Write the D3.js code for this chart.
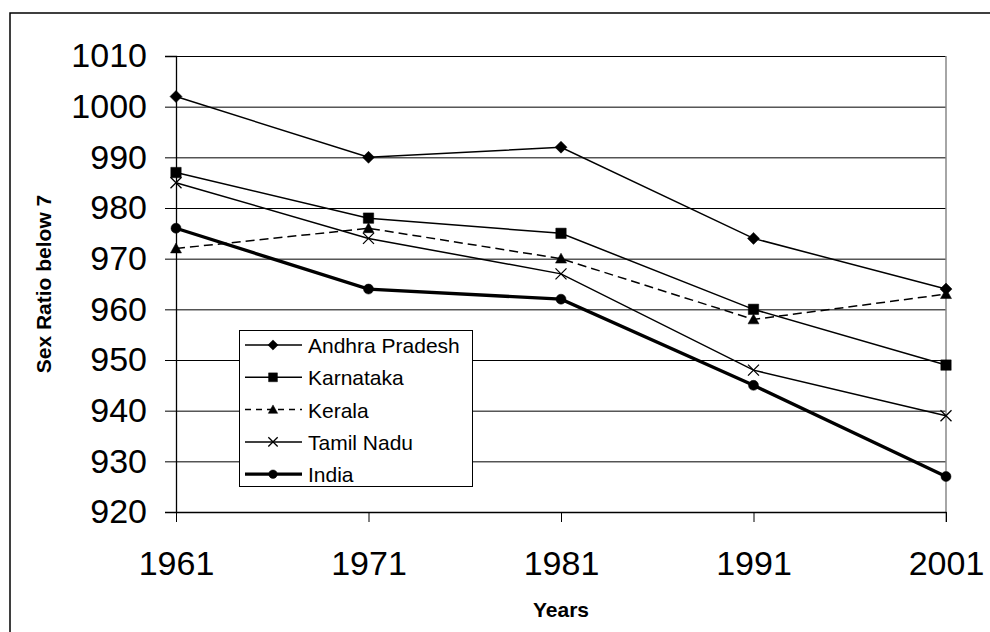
<!DOCTYPE html>
<html>
<head>
<meta charset="utf-8">
<script src="https://cdn.jsdelivr.net/npm/d3@7"></script>
<style>
    body { margin: 0; background: #fff; }
    svg { display: block; font-family: "Liberation Sans", Arial, sans-serif; }
</style>
</head>
<body>
<svg id="chart" width="990" height="632"></svg>
<script>
"use strict";

// Chart data
const years = [1961, 1971, 1981, 1991, 2001];
const yTicks = [920, 930, 940, 950, 960, 970, 980, 990, 1000, 1010];
const andhraPradesh = [1002, 990, 992, 974, 964];
const karnataka = [987, 978, 975, 960, 949];
const kerala = [972, 976, 970, 958, 963];
const tamilNadu = [985, 974, 967, 948, 939];
const india = [976, 964, 962, 945, 927];
const seriesNames = ['Andhra Pradesh', 'Karnataka', 'Kerala', 'Tamil Nadu', 'India'];

// Custom marker shapes (r = half width in px)
const markerShapes = {
    diamond: r => `M0,${-r}L${r},0L0,${r}L${-r},0Z`,
    square: r => `M${-r},${-r}H${r}V${r}H${-r}Z`,
    triangle: r => `M0,${-r}L${r},${r * 0.8}L${-r},${r * 0.8}Z`,
    cross: r => `M${-r},${-r}L${r},${r}M${-r},${r}L${r},${-r}`,
    circle: r => `M${r},0A${r},${r} 0 1,1 ${-r},0A${r},${r} 0 1,1 ${r},0Z`
};

const series = [
    { name: seriesNames[0], values: andhraPradesh, marker: 'diamond', size: 6, width: 1.5, dash: null },
    { name: seriesNames[1], values: karnataka, marker: 'square', size: 5.2, width: 1.5, dash: null },
    { name: seriesNames[2], values: kerala, marker: 'triangle', size: 5.5, width: 1.5, dash: '9,5' },
    { name: seriesNames[3], values: tamilNadu, marker: 'cross', size: 5.5, width: 1.5, dash: null },
    { name: seriesNames[4], values: india, marker: 'circle', size: 5, width: 3.3, dash: null }
];

const svg = d3.select('#chart');

// Plot area bounds
const plotLeft = 176, plotRight = 946, plotTop = 56, plotBottom = 512;

const x = d3.scalePoint().domain(years).range([plotLeft, plotRight]);
const y = d3.scaleLinear().domain([920, 1010]).range([plotBottom, plotTop]);

// Outer chart border (only top and left visible)
svg.append('path')
    .attr('d', 'M10,632V13H990')
    .attr('fill', 'none')
    .attr('stroke', '#000')
    .attr('stroke-width', 1.5);

// Horizontal gridlines
svg.append('g')
    .attr('transform', `translate(${plotLeft},0)`)
    .call(d3.axisLeft(y).tickValues(yTicks).tickSize(-(plotRight - plotLeft)).tickFormat(''))
    .call(g => g.select('.domain').remove())
    .call(g => g.selectAll('line').attr('stroke', '#000').attr('stroke-width', 1));

// Plot area right border
svg.append('line')
    .attr('x1', plotRight).attr('x2', plotRight)
    .attr('y1', plotTop).attr('y2', plotBottom + 10)
    .attr('stroke', '#888')
    .attr('stroke-width', 1.5);

// Y axis
svg.append('g')
    .attr('transform', `translate(${plotLeft},0)`)
    .call(d3.axisLeft(y).tickValues(yTicks).tickFormat(d3.format('d')).tickSize(11).tickPadding(18))
    .call(g => g.select('.domain').attr('stroke', '#000').attr('stroke-width', 1.3))
    .call(g => g.selectAll('line').attr('stroke', '#000'))
    .call(g => g.selectAll('text').attr('font-size', 34).attr('fill', '#000')
        .attr('font-family', '"Liberation Sans", Arial, sans-serif'));

// X axis
svg.append('g')
    .attr('transform', `translate(0,${plotBottom})`)
    .call(d3.axisBottom(x).tickSize(10).tickPadding(29).tickSizeOuter(0))
    .call(g => g.select('.domain').attr('stroke', '#000').attr('stroke-width', 1.3))
    .call(g => g.selectAll('line').attr('stroke', '#000'))
    .call(g => g.selectAll('text').attr('font-size', 34).attr('fill', '#000')
        .attr('font-family', '"Liberation Sans", Arial, sans-serif'));

// Axis titles
svg.append('text')
    .attr('transform', `translate(51,${(plotTop + plotBottom) / 2}) rotate(-90)`)
    .attr('text-anchor', 'middle')
    .attr('font-size', 21)
    .attr('font-weight', 'bold')
    .text('Sex Ratio below 7');

svg.append('text')
    .attr('x', 561)
    .attr('y', 617)
    .attr('text-anchor', 'middle')
    .attr('font-size', 21)
    .attr('font-weight', 'bold')
    .text('Years');

// Series lines and markers
const line = d3.line()
    .x((d, i) => x(years[i]))
    .y(d => y(d));

series.forEach(s => {
    svg.append('path')
        .datum(s.values)
        .attr('d', line)
        .attr('fill', 'none')
        .attr('stroke', '#000')
        .attr('stroke-width', s.width)
        .attr('stroke-dasharray', s.dash);

    svg.append('g')
        .selectAll('path')
        .data(s.values)
        .enter().append('path')
        .attr('transform', (d, i) => `translate(${x(years[i])},${y(d)})`)
        .attr('d', markerShapes[s.marker](s.size))
        .attr('fill', s.marker === 'cross' ? 'none' : '#000')
        .attr('stroke', '#000')
        .attr('stroke-width', s.marker === 'cross' ? 1.3 : 0.5);
});

// Legend
const legend = svg.append('g');
legend.append('rect')
    .attr('x', 239.5)
    .attr('y', 330.5)
    .attr('width', 233)
    .attr('height', 156)
    .attr('fill', '#fff')
    .attr('stroke', '#000')
    .attr('stroke-width', 1);

const legendRows = legend.selectAll('g.row')
    .data(series)
    .enter().append('g')
    .attr('class', 'row')
    .attr('transform', (d, i) => `translate(0,${345 + i * 32.3})`);

legendRows.append('line')
    .attr('x1', 245).attr('x2', 302)
    .attr('y1', 0).attr('y2', 0)
    .attr('stroke', '#000')
    .attr('stroke-width', d => d.width)
    .attr('stroke-dasharray', d => d.dash ? '6,5' : null);

legendRows.append('path')
    .attr('transform', 'translate(273,0)')
    .attr('d', d => markerShapes[d.marker](d.size * 0.85))
    .attr('fill', d => d.marker === 'cross' ? 'none' : '#000')
    .attr('stroke', '#000')
    .attr('stroke-width', d => d.marker === 'cross' ? 1.3 : 0.5);

legendRows.append('text')
    .attr('x', 308)
    .attr('y', 8)
    .attr('font-size', 21)
    .text(d => d.name);
</script>
</body>
</html>
